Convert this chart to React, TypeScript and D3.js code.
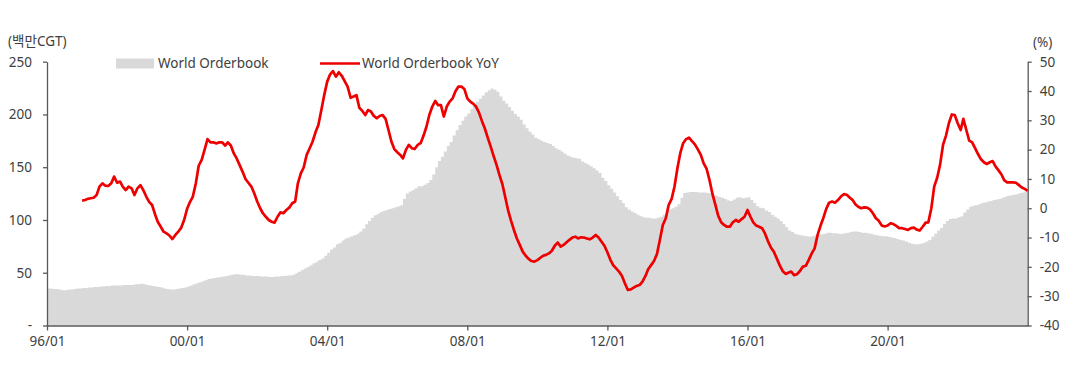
import React, { useEffect, useRef } from 'react';
import * as d3 from 'd3';

// monthly orderbook, 백만CGT, from 1996/01
const orderbook: number[] = [
  35, 35, 34.5, 34.5, 34, 33.5, 33.5, 34, 34, 34.5, 35, 35,
  35.5, 35.5, 36, 36, 36.5, 36.5, 37, 37, 37.5, 37.5, 38, 38,
  38, 38, 38.5, 38.5, 38.5, 38.5, 39, 39, 39.5, 39, 38.5, 38,
  37.5, 37, 36.5, 36, 35, 34.5, 34, 34, 34.5, 35, 35.5, 36,
  37, 38, 39, 40, 41, 42, 43, 44, 44.5, 45, 45.5, 46,
  46.5, 47, 47.5, 48, 48.5, 48.5, 48, 48, 47.5, 47.5, 47, 47,
  47, 46.5, 46.5, 46.5, 46, 46, 46.5, 46.5, 47, 47, 47.5, 47.5,
  48, 49.5, 51, 52.5, 54, 55.5, 57, 59, 60.5, 62, 63.5, 66,
  69, 72, 74, 77, 78.5, 80.5, 82.5, 83.5, 84.5, 85.5, 87, 89,
  92, 96, 99, 102, 104.5, 106, 107.5, 108.5, 109.5, 110.5, 111, 112,
  113, 114, 120, 125, 127, 128.5, 130, 132, 132, 133.5, 135, 138,
  143, 150, 156, 160, 165, 170, 174, 180, 185, 190, 194, 198,
  201, 205, 208, 212, 215, 218, 221, 223, 224.5, 223.5, 221.5, 217,
  213, 210.5, 207, 203.5, 200.5, 198, 195, 190.5, 187, 183.5, 181, 178,
  176.5, 175, 174, 173, 172, 170, 168, 166.5, 165, 163, 161, 160,
  159, 158.5, 158, 155.5, 154, 152.5, 151, 149, 147, 144.5, 140, 137,
  133, 129.5, 126, 122.5, 119, 116, 112, 110, 108, 106.5, 105, 103.5,
  102.5, 102, 102, 101.5, 101.5, 102, 103, 105, 108, 110, 111, 112.5,
  115, 121, 125.5, 126, 126.5, 126.5, 126.5, 126, 126, 126, 125.5, 125,
  124, 123, 122, 121, 120, 118.5, 118, 119.5, 121, 121.5, 120.5, 121,
  121.5, 119, 116, 113, 111.5, 111, 109, 107.5, 105, 103, 101.5, 99,
  96, 93, 90, 88.5, 87, 86, 85.5, 85, 84.5, 84, 84.5, 85.5,
  86, 86.5, 87, 88, 88, 87.5, 87.5, 87, 87, 87.5, 88, 88.5,
  89, 89, 88.5, 88, 88, 87.5, 87, 86, 85.5, 85, 84.5, 84.5,
  84, 83.5, 83, 82, 81, 80.5, 79.5, 78.5, 77.5, 77, 77, 77.5,
  78.5, 79.5, 81, 84, 87, 90, 92.5, 96.5, 99, 101, 101.5, 101.5,
  102.5, 103.5, 107, 110, 112.5, 113.5, 114, 115, 116, 116.5, 117.5, 118,
  119, 119.5, 120, 121, 122, 123, 123.5, 124, 124.5, 125.5, 126, 126.5,
  127,
];

// monthly YoY %, from 1997/01
const orderbookYoY: number[] = [
  2.6, 2.8, 3.2, 3.4, 3.6, 4.5, 7.4, 8.5, 7.7, 7.6, 8.5, 10.8,
  8.7, 9.1, 7.4, 6.2, 7.4, 6.8, 4.5, 6.8, 7.9, 6.2, 4.0, 2.2,
  1.1, -2.1, -4.6, -6.3, -8.0, -8.6, -9.3, -10.5, -9.1, -8.0, -6.6, -4.0,
  -0.2, 2.2, 4.0, 8.5, 14.5, 16.5, 19.9, 23.6, 22.5, 22.5, 22.1, 22.5,
  22.5, 21.4, 22.5, 21.4, 18.8, 17.0, 14.8, 12.5, 10.0, 8.7, 7.4, 5.1,
  2.3, 0, -1.7, -2.9, -4.0, -4.6, -4.9, -2.9, -1.4, -1.7, -0.6, 0.2,
  1.7, 2.3, 8.5, 11.9, 13.9, 18.2, 20.4, 22.7, 25.9, 28.4, 33.5, 38.6,
  43.2, 45.7, 46.8, 44.9, 46.4, 45.2, 43.4, 41.5, 37.7, 38.1, 38.6, 34.3,
  33.2, 31.8, 33.5, 33.0, 31.5, 30.7, 31.5, 31.8, 30.5, 26.7, 22.7, 20.2,
  19.1, 18.2, 17.0, 19.9, 21.6, 20.5, 20.2, 21.6, 22.2, 24.7, 27.8, 31.8,
  34.7, 36.6, 35.2, 35.2, 31.3, 34.7, 36.4, 37.5, 40.0, 41.5, 41.5, 40.7,
  37.5, 36.4, 35.7, 34.7, 32.7, 29.8, 27.3, 24.1, 21.0, 17.9, 14.8, 11.4,
  8.2, 3.6, -0.6, -4.2, -7.4, -10.3, -12.5, -14.8, -16.2, -17.3, -18.0, -18.2,
  -17.7, -16.9, -16.2, -15.9, -15.4, -14.5, -12.8, -11.7, -13.1, -12.5, -11.6, -10.8,
  -10.0, -9.7, -10.3, -9.9, -10.0, -10.3, -10.6, -10.0, -9.1, -10.0, -11.4, -12.8,
  -15.0, -17.6, -19.4, -20.5, -21.6, -23.1, -25.6, -27.9, -27.7, -27.1, -26.5, -26.2,
  -25.0, -23.1, -20.8, -19.4, -18.0, -15.6, -10.8, -5.7, -3.4, 1.1, 3.2, 7.4,
  13.8, 19.1, 22.2, 23.6, 24.1, 22.9, 21.8, 20.1, 18.2, 15.3, 13.4, 9.6,
  4.8, 1.1, -2.5, -4.8, -5.7, -6.3, -6.3, -4.8, -4.0, -4.6, -3.7, -2.9,
  -0.6, -2.9, -4.8, -5.9, -6.3, -6.8, -8.6, -11.2, -13.4, -14.8, -17.1, -19.4,
  -21.4, -22.4, -22.0, -21.6, -22.8, -22.5, -21.4, -19.9, -19.6, -17.6, -15.4, -13.7,
  -9.1, -5.9, -3.4, -0.2, 1.9, 2.3, 1.9, 2.8, 4.0, 4.8, 4.6, 3.7,
  2.8, 1.3, 0.5, 0, 0.3, 0.2, -0.4, -1.7, -3.4, -4.3, -5.9, -6.2,
  -5.9, -5.1, -5.4, -6.0, -6.8, -6.8, -7.1, -7.4, -6.8, -6.6, -7.3, -7.6,
  -6.3, -4.9, -4.8, 0, 7.4, 10.4, 14.8, 21.6, 24.8, 29.0, 32.0, 31.8,
  29.0, 26.7, 30.5, 26.7, 23.1, 22.5, 20.5, 18.5, 16.7, 15.7, 15.1, 15.7,
  16.1, 14.2, 13.0, 11.6, 9.6, 8.8, 8.8, 8.8, 8.7, 7.9, 7.1, 6.6, 5.9,
];

const leftTicks = [0, 50, 100, 150, 200, 250];
const rightTicks = [-40, -30, -20, -10, 0, 10, 20, 30, 40, 50];
const xTickYears = [1996, 2000, 2004, 2008, 2012, 2016, 2020];

const W = 1069;
const H = 389;
const FONT = '"Noto Sans", "Noto Sans CJK KR", sans-serif';
const FS = '13.5px';
const AXIS = '#595959';
const TEXT = '#404040';

export default function App() {
  const ref = useRef<SVGSVGElement>(null);

  useEffect(() => {
    if (!ref.current) return;
    const svg = d3.select(ref.current);
    svg.selectAll('*').remove();

    const left = 47, right = 1027.7, top = 61.7, bottom = 325.5;

    const x = d3.scaleTime()
      .domain([new Date(1996, 0, 1), new Date(2024, 0, 1)])
      .range([left, right]);
    const yL = d3.scaleLinear().domain([0, 250]).range([bottom, top]);
    const yR = d3.scaleLinear().domain([-40, 50]).range([bottom, top]);

    const bookData = orderbook.map((v, i) => ({ date: new Date(1996, i, 1), v }));
    const yoyData = orderbookYoY.map((v, i) => ({ date: new Date(1997, i, 1), v }));

    // grey area, monthly steps
    const area = d3.area<{ date: Date; v: number }>()
      .x(d => x(d.date))
      .y0(bottom)
      .y1(d => yL(d.v))
      .curve(d3.curveStepAfter);
    svg.append('path')
      .datum(bookData)
      .attr('d', area)
      .attr('fill', '#d9d9d9');

    const line = d3.line<{ date: Date; v: number }>()
      .x(d => x(d.date))
      .y(d => yR(d.v));
    svg.append('path')
      .datum(yoyData)
      .attr('d', line)
      .attr('fill', 'none')
      .attr('stroke', '#ee0000')
      .attr('stroke-width', 2.7)
      .attr('stroke-linejoin', 'round');

    // axes
    const styleAxis = (g: d3.Selection<SVGGElement, unknown, null, undefined>) => {
      g.selectAll('.domain').attr('stroke', AXIS).attr('stroke-width', 1.3);
      g.selectAll('.tick line').attr('stroke', AXIS).attr('stroke-width', 1.3);
      g.selectAll('text')
        .attr('fill', TEXT)
        .style('font-family', FONT)
        .style('font-size', FS);
    };

    svg.append('g')
      .attr('transform', `translate(${left},0)`)
      .call(d3.axisLeft(yL).tickValues(leftTicks).tickSize(4).tickSizeOuter(0).tickPadding(11)
        .tickFormat(d => (+d === 0 ? '-' : String(d))))
      .call(styleAxis);

    svg.append('g')
      .attr('transform', `translate(${right},0)`)
      .call(d3.axisRight(yR).tickValues(rightTicks).tickSize(4).tickSizeOuter(0).tickPadding(8)
        .tickFormat(d => String(d)))
      .call(styleAxis);

    svg.append('g')
      .attr('transform', `translate(0,${bottom})`)
      .call(d3.axisBottom(x)
        .tickValues(xTickYears.map(y => new Date(y, 0, 1)))
        .tickSize(5).tickSizeOuter(0).tickPadding(6)
        .tickFormat(d => d3.timeFormat('%y/%m')(d as Date)))
      .call(styleAxis);

    // unit labels
    svg.append('text').attr('x', 8).attr('y', 46).text('(백만CGT)')
      .attr('fill', TEXT).style('font-family', FONT).style('font-size', FS);
    svg.append('text').attr('x', 1033).attr('y', 47).text('(%)')
      .attr('fill', TEXT).style('font-family', FONT).style('font-size', FS);

    // legend
    const lg = svg.append('g');
    lg.append('rect').attr('x', 116).attr('y', 58.5).attr('width', 38).attr('height', 10).attr('fill', '#d9d9d9');
    lg.append('text').attr('x', 158).attr('y', 68).text('World Orderbook')
      .attr('fill', TEXT).style('font-family', FONT).style('font-size', FS);
    lg.append('line').attr('x1', 320).attr('x2', 360).attr('y1', 63.5).attr('y2', 63.5)
      .attr('stroke', '#ee0000').attr('stroke-width', 2.7);
    lg.append('text').attr('x', 362).attr('y', 68).text('World Orderbook YoY')
      .attr('fill', TEXT).style('font-family', FONT).style('font-size', FS);
  }, []);

  return (
    <div style={{ position: 'absolute', left: 0, top: 0, background: '#fff' }}>
      <svg ref={ref} width={W} height={H} style={{ display: 'block' }} />
    </div>
  );
}
